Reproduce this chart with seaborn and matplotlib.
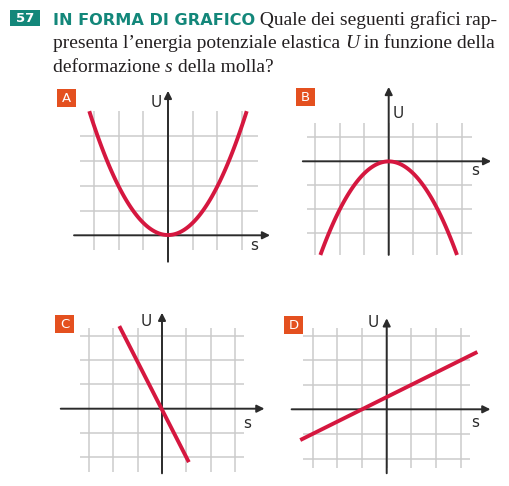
import matplotlib
matplotlib.use("Agg")
import matplotlib.pyplot as plt
from matplotlib.patches import Rectangle
import seaborn as sns

W, H = 510, 486

# Curves (grid units)
s_a = [-3.2, -2.5, -2.0, -1.5, -1.0, -0.5, 0.0, 0.5, 1.0, 1.5, 2.0, 2.5, 3.2]
U_a = [5.0, 3.1, 2.0, 1.1, 0.5, 0.12, 0.0, 0.12, 0.5, 1.1, 2.0, 3.1, 5.0]

s_b = [-2.8, -2.0, -1.0, 0.0, 1.0, 2.0, 2.8]
U_b = [-3.9, -2.0, -0.5, 0.0, -0.5, -2.0, -3.9]

s_c = [-1.75, 1.1]
U_c = [3.4, -2.2]

s_d = [-3.5, 3.67]
U_d = [-1.25, 2.33]

grid_x = [-3, -2, -1, 0, 1, 2, 3]
grid_y_a = [1, 2, 3, 4]
grid_y_b = [1, -1, -2, -3]
grid_y_c = [3, 2, 1, -1, -2]
grid_y_d = [3, 2, 1, -1, -2]

sns.set_style("white")

RED = "#d5173f"
GRID = "#cbcbcb"
AXIS = "#2b2b2b"
TEAL = "#13877a"
BOX = "#e4501f"
INK = "#231f20"

fig = plt.figure(figsize=(W / 100, H / 100), dpi=100)
bg = fig.add_axes([0, 0, 1, 1])
bg.set_xlim(0, W)
bg.set_ylim(H, 0)
bg.axis("off")


def panel(ox, oy, ux, uy):
    x0, x1, y0, y1 = -4.5, 4.5, -4.5, 6.5
    ax = fig.add_axes([(ox + x0 * ux) / W, (H - oy + y0 * uy) / H,
                       (x1 - x0) * ux / W, (y1 - y0) * uy / H])
    ax.patch.set_alpha(0)
    return ax


def frame(ax, gy, vrange, hrange, xaxis, yaxis, upos, spos):
    ax.vlines(grid_x, vrange[0], vrange[1], color=GRID, lw=1.1, zorder=1)
    ax.hlines(gy, hrange[0], hrange[1], color=GRID, lw=1.1, zorder=1)
    arrow = dict(arrowstyle="-|>", color=AXIS, lw=1.4, shrinkA=0, shrinkB=0, mutation_scale=11)
    ax.annotate("", xy=(xaxis[1], 0), xytext=(xaxis[0], 0), arrowprops=arrow, zorder=2)
    ax.annotate("", xy=(0, yaxis[1]), xytext=(0, yaxis[0]), arrowprops=arrow, zorder=2)
    ax.text(*upos, "U", fontsize=11, color=AXIS, ha="center", va="center", family="DejaVu Sans")
    ax.text(*spos, "s", fontsize=11, color=AXIS, ha="center", va="center", family="DejaVu Sans")


def finish(ax):
    ax.set_xlim(-4.5, 4.5)
    ax.set_ylim(-4.5, 6.5)
    ax.axis("off")


line_kw = dict(color=RED, lw=2.8, solid_capstyle="butt", zorder=3)

# A
ax = panel(168, 235.3, 24.6, 24.7)
frame(ax, grid_y_a, (-0.6, 5.05), (-3.58, 3.66), (-3.82, 4.15), (-1.07, 5.85), (-0.49, 5.36), (3.5, -0.43))
sns.regplot(x=s_a, y=U_a, order=2, ci=None, scatter=False, ax=ax, line_kws=line_kw)
finish(ax)

# B
ax = panel(388.7, 161.3, 24.4, 24.0)
frame(ax, grid_y_b, (-3.9, 1.58), (-3.36, 3.4), (-3.52, 4.2), (-3.9, 3.1), (0.38, 2.0), (3.54, -0.39))
sns.regplot(x=s_b, y=U_b, order=2, ci=None, scatter=False, ax=ax, line_kws=line_kw)
finish(ax)

# C
ax = panel(162, 408.7, 24.4, 24.3)
frame(ax, grid_y_c, (-2.6, 3.32), (-3.36, 3.36), (-4.15, 4.2), (-2.66, 3.95), (-0.63, 3.58), (3.5, -0.6))
sns.lineplot(x=s_c, y=U_c, ax=ax, **line_kw)
finish(ax)

# D
ax = panel(386.7, 409.3, 24.7, 24.6)
frame(ax, grid_y_d, (-2.4, 3.29), (-3.38, 3.37), (-3.85, 4.2), (-2.6, 3.7), (-0.54, 3.52), (3.6, -0.55))
sns.lineplot(x=s_d, y=U_d, ax=ax, **line_kw)
finish(ax)

# letter boxes
for letter, (x, y) in zip("ABCD", [(57, 89), (296, 88), (55, 315), (284, 316)]):
    bg.add_patch(Rectangle((x, y), 19, 18, color=BOX, lw=0))
    bg.text(x + 9.5, y + 9.5, letter, color="white", fontsize=9.5, ha="center", va="center",
            family="DejaVu Sans")

# question header
bg.add_patch(Rectangle((10, 10), 30, 16, color=TEAL, lw=0))
bg.text(25, 18.5, "57", color="white", fontsize=9.5, fontweight="bold", ha="center", va="center",
        family="DejaVu Sans")

renderer = fig.canvas.get_renderer()


def chain(x, y, pieces):
    for txt, kw in pieces:
        t = bg.text(x, y, txt, va="baseline", ha="left", **kw)
        bb = t.get_window_extent(renderer)
        x += bb.width


serif = dict(family="Liberation Serif", fontsize=14, color=INK)
serif_it = dict(serif, style="italic")
chain(53, 25, [("IN FORMA DI GRAFICO", dict(family="DejaVu Sans", fontweight="bold", fontsize=11.6, color=TEAL)),
               (" Quale dei seguenti grafici rap-", serif)])
chain(53, 48, [("presenta l\u2019energia potenziale elastica ", serif), ("U", serif_it),
               (" in funzione della", serif)])
chain(53, 72, [("deformazione ", serif), ("s", serif_it), (" della molla?", serif)])

fig.savefig("out.png", dpi=100)
